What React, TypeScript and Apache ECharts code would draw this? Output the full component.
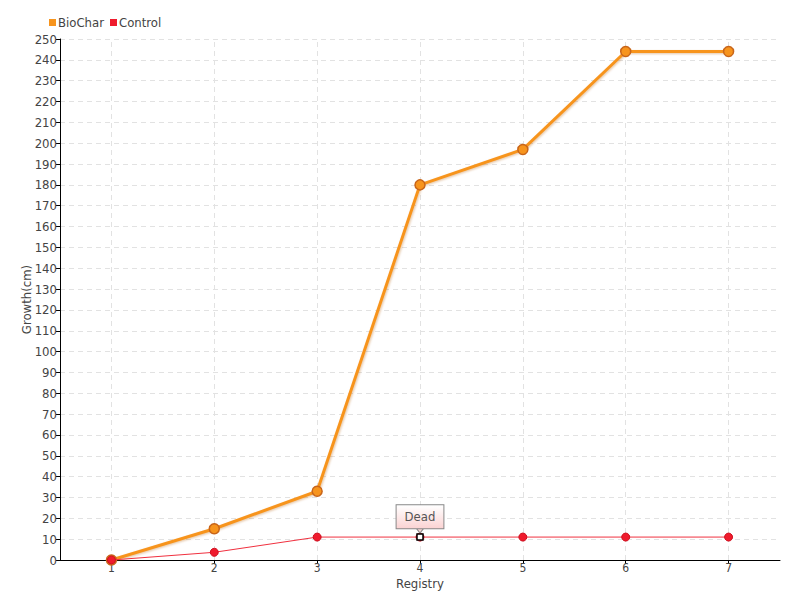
import React, { useEffect, useRef } from "react";
import * as echarts from "echarts";

const categories = ["1", "2", "3", "4", "5", "6", "7"];
const bioChar = [0, 15, 33, 180, 197, 244, 244];
const control = [0, 3.7, 11, 11, 11, 11, 11];
const deadIndex = 3;
const deadLabel = "Dead";

const FONT = "'DejaVu Sans Condensed', 'Liberation Sans Narrow', sans-serif";

export default function App() {
  const ref = useRef<HTMLDivElement>(null);
  useEffect(() => {
    if (!ref.current) return;
    const chart = echarts.init(ref.current, undefined, { renderer: "svg" });
    const deadCoord = [deadIndex, control[deadIndex]];
    chart.setOption({
      animation: false,
      textStyle: { fontFamily: FONT, color: "#444" },
      legend: {
        left: 44,
        top: 11,
        itemWidth: 7,
        itemHeight: 7,
        itemGap: 6,
        icon: "rect",
        textStyle: { fontFamily: FONT, fontSize: 13, color: "#444", padding: [0, 0, 0, -3] },
        data: [
          { name: "BioChar", itemStyle: { color: "#f7941d", borderWidth: 0 } },
          { name: "Control", itemStyle: { color: "#ef1b2d", borderWidth: 0 } },
        ],
      },
      grid: { left: 60, right: 20, top: 39, bottom: 40 },
      xAxis: {
        type: "category",
        data: categories,
        boundaryGap: true,
        name: "Registry",
        nameLocation: "middle",
        nameGap: 17,
        nameMoveOverlap: false,
        nameTextStyle: { fontFamily: FONT, fontSize: 13, color: "#444", lineHeight: 13 },
        axisLine: { lineStyle: { color: "#000", width: 1 } },
        axisTick: { show: true, alignWithLabel: true, length: 4, lineStyle: { color: "#000" } },
        axisLabel: { fontFamily: FONT, fontSize: 12, lineHeight: 12, color: "#444", margin: 2 },
        splitLine: { show: false },
      },
      yAxis: {
        type: "value",
        min: 0,
        max: 250,
        interval: 10,
        name: "Growth(cm)",
        nameLocation: "middle",
        nameGap: 27,
        nameMoveOverlap: false,
        nameTextStyle: { fontFamily: FONT, fontSize: 13, color: "#444" },
        axisLine: { show: true, lineStyle: { color: "#000", width: 1 } },
        axisTick: { show: true, length: 4, lineStyle: { color: "#000" } },
        axisLabel: { fontFamily: FONT, fontSize: 13, color: "#444", margin: 3 },
        splitLine: { show: true, lineStyle: { color: "#e2e2e2", type: [5, 4] } },
      },
      series: [
        {
          name: "BioChar",
          type: "line",
          data: bioChar,
          symbol: "circle",
          symbolSize: 10,
          showAllSymbol: true,
          lineStyle: {
            color: "#f7941d",
            width: 3,
            shadowColor: "rgba(180,90,0,0.35)",
            shadowBlur: 2,
            shadowOffsetX: 1,
            shadowOffsetY: 1,
          },
          itemStyle: { color: "#f7941d", borderColor: "#c8651a", borderWidth: 1.5 },
          markLine: {
            silent: true,
            symbol: "none",
            label: { show: false },
            lineStyle: { color: "#e2e2e2", type: [5, 4], width: 1 },
            z: 0,
            data: categories.map((c) => ({ xAxis: c })),
          },
          z: 2,
        },
        {
          name: "Control",
          type: "line",
          data: control,
          symbol: "circle",
          symbolSize: 8,
          showAllSymbol: true,
          lineStyle: { color: "#f0303f", width: 1 },
          itemStyle: { color: "#ef1b2d", borderColor: "#d01020", borderWidth: 1 },
          markPoint: {
            silent: true,
            data: [
              {
                coord: deadCoord,
                symbol: "triangle",
                symbolRotate: 180,
                symbolSize: [9, 6],
                symbolOffset: [0, -7],
                itemStyle: { color: "#fbd6d6", borderColor: "#888", borderWidth: 1 },
                label: { show: false },
              },
              {
                coord: deadCoord,
                symbol: "rect",
                symbolSize: 6,
                itemStyle: { color: "#ffffff", borderColor: "#000000", borderWidth: 1.5 },
                label: {
                  show: true,
                  position: "top",
                  distance: 5,
                  formatter: deadLabel,
                  color: "#555",
                  fontFamily: FONT,
                  fontSize: 13,
                  padding: [5, 8, 5, 8],
                  borderColor: "#888",
                  borderWidth: 1,
                  backgroundColor: new echarts.graphic.LinearGradient(0, 0, 0, 1, [
                    { offset: 0, color: "#ffffff" },
                    { offset: 1, color: "#fbd3d3" },
                  ]),
                },
              },
            ],
          },
          z: 3,
        },
      ],
    });
    return () => chart.dispose();
  }, []);
  return <div ref={ref} style={{ width: 800, height: 600, position: "absolute", left: 0, top: 0 }} />;
}
